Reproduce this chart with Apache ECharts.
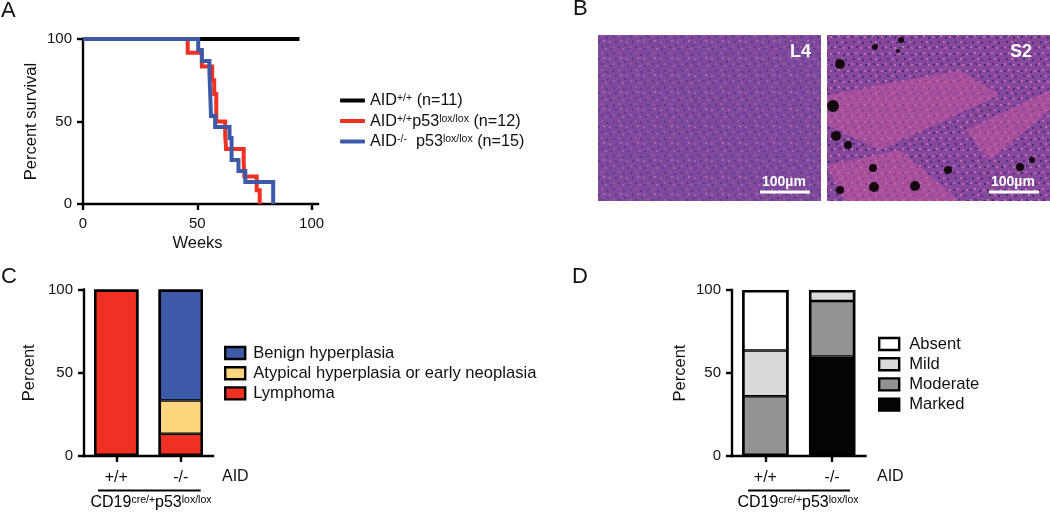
<!DOCTYPE html>
<html><head><meta charset="utf-8">
<style>html,body{margin:0;padding:0;background:#fff}#c{width:1050px;height:513px}</style>
<script src="https://cdn.jsdelivr.net/npm/echarts@6/dist/echarts.min.js"></script>
</head><body><div id="c"></div>
<script>
const survivalTicks = [0, 50, 100];
const wildType = [[0,100],[94.7,100]];
const aidPosP53 = [[0,100],[45.8,91.7],[52,83.3],[56.5,75],[57.4,66.7],[58.3,50],[62.2,41.7],[62.6,33.3],[70.3,25],[70.6,16.7],[76,8.3],[77.3,0]];
const aidNegP53 = [[0,100],[50.4,93.3],[52,86.7],[55.3,80],[56,53.3],[57.8,46.7],[64.1,40],[65,26.7],[68,20],[71,13.3],[83.2,0]];
const genotypes = ['+/+','-/-'];
const lymphoma = [100,13.3];
const atypical = [null,20];
const benign = [null,66.7];
const marked = [null,60];
const moderate = [36,33.3];
const mild = [27.5,6.7];
const absent = [36.5,null];
const totals = [100,100];
const seriesNames = ['AID+/+','AID+/+p53','AID-/-p53'];
const legendTexts = {
  'AID+/+':'{n|AID}{s|+/+}{n| (n=11)}',
  'AID+/+p53':'{n|AID}{s|+/+}{n|p53}{s|lox/lox}{n| (n=12)}',
  'AID-/-p53':'{n|AID}{s|-/-}{n|  p53}{s|lox/lox}{n| (n=15)}'
};
const histoNames = ['Benign hyperplasia','Atypical hyperplasia or early neoplasia','Lymphoma'];
const gradeNames = ['Absent','Mild','Moderate','Marked'];

const F = '"Liberation Sans"';
const FS = 16;
const TS = 15;
const LS = 16.6;
const AW = 2.4;
const C = {red:'#ef3124',blue:'#3d5aa8',yellow:'#fed47c',lg:'#d9d9d9',mg:'#939393',bk:'#050505'};
const rich = {
  n:{fontFamily:F,fontSize:FS,color:'#111'},
  s:{fontFamily:F,fontSize:10.5,color:'#111',verticalAlign:'top',lineHeight:14}
};
const richLegend = {
  n:{fontFamily:F,fontSize:16.2,color:'#111'},
  s:{fontFamily:F,fontSize:10.5,color:'#111',verticalAlign:'top',lineHeight:14}
};
const axisLine = {onZero:false,lineStyle:{color:'#000',width:AW,cap:'square'}};
const tick = {length:6,lineStyle:{color:'#000',width:AW}};
const lbl = {color:'#111',fontFamily:F,fontSize:TS,margin:11};
const nameStyle = {color:'#111',fontFamily:F,fontSize:16.5};
function yAxis(i,name,gap){
  return {gridIndex:i,type:'value',min:0,max:100,interval:50,name,nameLocation:'middle',nameGap:gap,
    nameTextStyle:nameStyle,axisLine:{show:true,...axisLine},axisTick:{show:true,...tick},axisLabel:lbl,splitLine:{show:false}};
}
function catAxis(i){
  return {gridIndex:i,type:'category',data:genotypes,axisLine:{show:true,...axisLine},
    axisTick:{show:true,alignWithLabel:true,...tick},axisLabel:{...lbl,fontSize:FS,margin:14},splitLine:{show:false}};
}
const barW = {1:44.4,2:46.3};
function bar(name,data,color,xi){
  return {type:'bar',name,data,stack:'s'+xi,xAxisIndex:xi,yAxisIndex:xi,barWidth:barW[xi],barGap:'-100%',
    itemStyle:{color,borderColor:'#000',borderWidth:1.25},animation:false,clip:false,silent:true};
}
function outline(xi){
  return {type:'bar',name:'outline'+xi,data:totals,xAxisIndex:xi,yAxisIndex:xi,barWidth:barW[xi],barGap:'-100%',z:3,
    itemStyle:{color:'rgba(0,0,0,0)',borderColor:'#000',borderWidth:2.5},animation:false,clip:false,silent:true};
}
function step(name,data,color,w){
  return {type:'line',name,data,step:'end',xAxisIndex:0,yAxisIndex:0,showSymbol:false,symbol:'none',clip:false,
    lineStyle:{color,width:w,join:'miter',cap:'butt'},itemStyle:{color},animation:false,silent:true};
}
function textEl(x,y,text,extra){
  return {type:'text',x,y,silent:true,style:{text,fontFamily:F,fontSize:FS,fill:'#111',verticalAlign:'middle',...extra}};
}
function richEl(x,y){
  return {type:'text',x,y,silent:true,style:{text:'{n|CD19}{s|cre/+}{n|p53}{s|lox/lox}',rich,align:'center',verticalAlign:'middle',fontFamily:F,fontSize:FS}};
}
function hline(x1,x2,y){
  return {type:'line',silent:true,shape:{x1,y1:y,x2,y2:y},style:{stroke:'#000',lineWidth:2.2}};
}
function tile(base,dots){
  const cv=document.createElement('canvas');cv.width=cv.height=17;
  const g=cv.getContext('2d');g.fillStyle=base;g.fillRect(0,0,17,17);
  dots.forEach(([x,y,c])=>{g.fillStyle=c;g.fillRect(x,y,2,2);});
  return cv;
}
function panel(x,w,base,dots){
  return {type:'rect',silent:true,shape:{x,y:35,width:w,height:166},style:{fill:{image:tile(base,dots),repeat:'repeat'}}};
}
const dotsL4 = [[1,2,'#5d3a94'],[6,1,'#a0589f'],[11,3,'#5d3a94'],[14,7,'#a65ea8'],[3,7,'#5d3a94'],[8,6,'#b068ac'],[12,10,'#5d3a94'],[1,12,'#a0589f'],[6,12,'#5d3a94'],[10,14,'#a65ea8'],[15,14,'#5d3a94']];
const dotsS2 = [[1,2,'#46307f'],[5,1,'#c76aa8'],[10,3,'#46307f'],[14,2,'#c76aa8'],[3,7,'#46307f'],[8,7,'#c76aa8'],[12,8,'#46307f'],[1,12,'#c76aa8'],[6,12,'#46307f'],[10,13,'#c76aa8'],[15,13,'#46307f']];
const blotches = [[840,64,5],[833,106,6],[836,136,5],[848,145,4],[873,168,4],[874,187,5],[915,186,5],[875,47,3],[901,40,3],[898,51,2],[948,170,4],[1020,167,4],[1032,160,3],[840,190,4]];
const pinkBands = [
  [[827,95],[960,70],[1000,95],[880,150],[827,125]],
  [[827,165],[900,150],[960,201],[845,201]],
  [[965,130],[1050,90],[1050,110],[990,160]]
];
const swatchStyle = {borderColor:'#000',borderWidth:2.4};
const option = {
  animation:false,
  backgroundColor:'#fff',
  textStyle:{fontFamily:F},
  grid:[
    {left:83,top:39,width:235,height:165},
    {left:84,top:289.5,width:129,height:166.5},
    {left:732,top:290,width:133.5,height:166}
  ],
  xAxis:[
    {gridIndex:0,type:'value',min:0,max:102.8,name:'Weeks',nameLocation:'middle',nameGap:31,
     nameTextStyle:{...nameStyle,padding:[0,6,0,0]},axisLine:{show:true,...axisLine},
     axisTick:{show:true,customValues:survivalTicks,...tick},axisLabel:{...lbl,customValues:survivalTicks,margin:12},splitLine:{show:false}},
    catAxis(1),catAxis(2)
  ],
  yAxis:[yAxis(0,'Percent survival',43),yAxis(1,'Percent',46),yAxis(2,'Percent',43)],
  legend:[
    {orient:'vertical',left:340,top:93,padding:0,itemGap:4.5,itemWidth:25,itemHeight:4,icon:'roundRect',
     data:seriesNames,formatter:n=>legendTexts[n],textStyle:{rich:richLegend,height:15},selectedMode:false},
    {orient:'vertical',left:224,top:344.5,padding:0,itemGap:3.2,itemWidth:20,itemHeight:12,icon:'rect',itemStyle:swatchStyle,
     data:histoNames,textStyle:{color:'#111',fontFamily:F,fontSize:LS,height:15,padding:[0,0,0,3]},selectedMode:false},
    {orient:'vertical',left:878,top:335.5,padding:0,itemGap:3.2,itemWidth:20,itemHeight:12,icon:'rect',itemStyle:swatchStyle,
     data:gradeNames,textStyle:{color:'#111',fontFamily:F,fontSize:LS,height:15,padding:[0,0,0,5]},selectedMode:false}
  ],
  series:[
    step('AID+/+',wildType,'#000',4),
    step('AID+/+p53',aidPosP53,C.red,4),
    step('AID-/-p53',aidNegP53,C.blue,4),
    bar('Lymphoma',lymphoma,C.red,1),
    bar('Atypical hyperplasia or early neoplasia',atypical,C.yellow,1),
    bar('Benign hyperplasia',benign,C.blue,1),
    outline(1),
    bar('Marked',marked,C.bk,2),
    bar('Moderate',moderate,C.mg,2),
    bar('Mild',mild,C.lg,2),
    bar('Absent',absent,'#fff',2),
    outline(2)
  ],
  graphic:{elements:[
    textEl(1,11,'A',{fontSize:22}),
    textEl(573,9,'B',{fontSize:22}),
    textEl(1,277,'C',{fontSize:22}),
    textEl(572,277,'D',{fontSize:22}),
    panel(598,223,'#7f4a9c',dotsL4),
    panel(827,223,'#86489a',dotsS2),
    ...pinkBands.map(points=>({type:'polygon',silent:true,shape:{points},style:{fill:'#c2589f',opacity:0.55}})),
    ...blotches.map(([cx,cy,r])=>({type:'circle',silent:true,shape:{cx,cy,r},style:{fill:'#15090f'}})),
    textEl(790,52,'L4',{fill:'#fff',fontWeight:'bold',fontSize:18}),
    textEl(1010,52,'S2',{fill:'#fff',fontWeight:'bold',fontSize:18}),
    textEl(762,182,'100µm',{fill:'#fff',fontWeight:'bold',fontSize:14}),
    textEl(991,182,'100µm',{fill:'#fff',fontWeight:'bold',fontSize:14}),
    {type:'rect',silent:true,shape:{x:760,y:190.5,width:50,height:3},style:{fill:'#fff'}},
    {type:'rect',silent:true,shape:{x:989,y:190.5,width:50,height:3},style:{fill:'#fff'}},
    textEl(222,477,'AID'),
    textEl(877,477,'AID'),
    hline(98,200.7,490.5),
    hline(748,850,490.5),
    richEl(151,503),
    richEl(798,503)
  ]}
};
echarts.init(document.getElementById('c'),null,{renderer:'canvas'}).setOption(option);
</script></body></html>
